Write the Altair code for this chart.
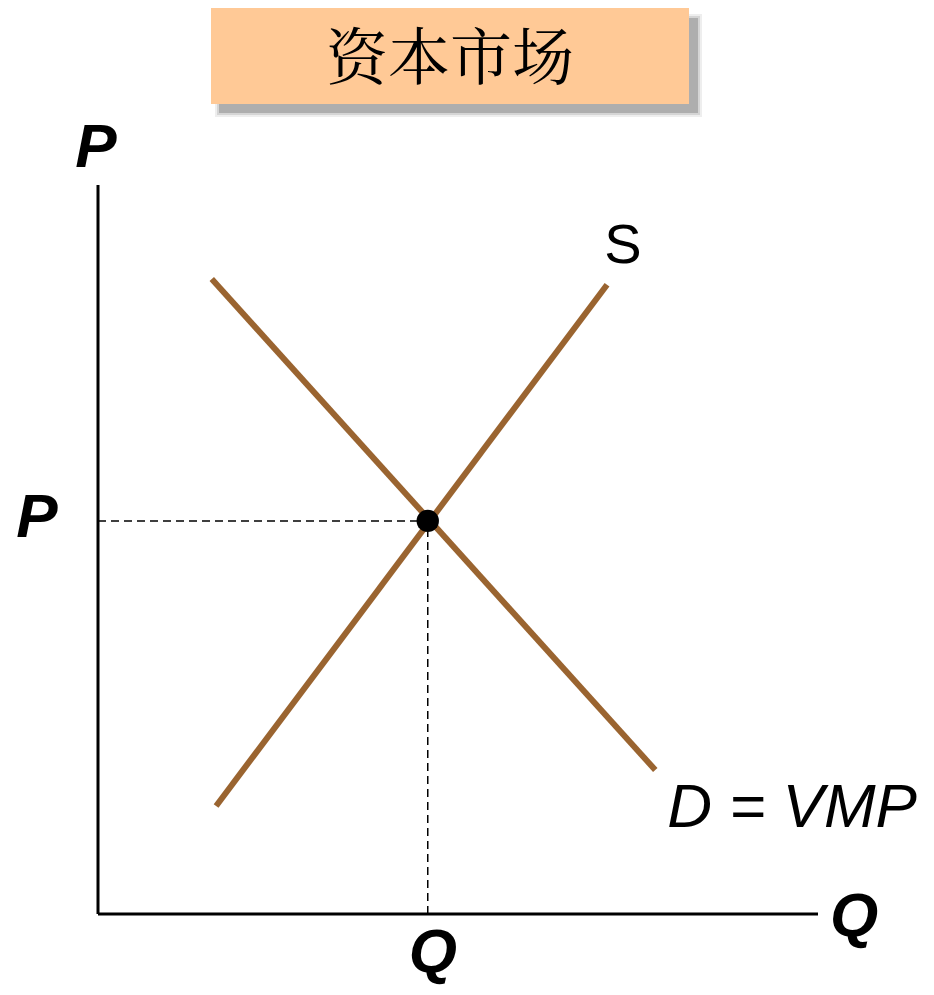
import altair as alt
import pandas as pd

# ---- data (economic units) ----
supply_q = [1.64, 7.07]
supply_p = [1.50, 8.74]
demand_q = [1.58, 7.74]
demand_p = [8.82, 2.00]
eq_q = 4.58
eq_p = 5.46
axis_q_max = 10.0
axis_p_max = 10.125

title_text = "资本市场"
label_text = ["P", "P", "Q", "Q", "S", "D = VMP"]
label_q = [-0.03, -0.85, 10.5, 4.65, 7.29, 9.64]
label_p = [10.375, 5.24, -0.31, -0.80, 9.04, 1.21]

# ---- layout ----
W, H = 918, 979
x_dom = [-90 / 72, (926 - 98) / 72]
y_dom = [(914 - 987) / 72, (914 - 8) / 72]
xs = alt.Scale(domain=x_dom, nice=False, zero=False)
ys = alt.Scale(domain=y_dom, nice=False, zero=False)
X = lambda f: alt.X(f, type="quantitative", scale=xs, axis=None)
Y = lambda f: alt.Y(f, type="quantitative", scale=ys, axis=None)

brown = "#9A6430"

curves = pd.DataFrame({
    "q": supply_q + demand_q,
    "p": supply_p + demand_p,
    "curve": ["S", "S", "D", "D"],
})
lines = alt.Chart(curves).mark_line(color=brown, strokeWidth=6, strokeCap="butt").encode(
    x=X("q"), y=Y("p"), detail="curve:N"
)

axes_df = pd.DataFrame({
    "q1": [0.0, 0.0], "q2": [axis_q_max, 0.0],
    "p1": [0.0, 0.0], "p2": [0.0, axis_p_max],
})
axes = alt.Chart(axes_df).mark_rule(color="black", strokeWidth=3).encode(
    x=X("q1"), x2="q2", y=Y("p1"), y2="p2"
)

dash_df = pd.DataFrame({
    "q1": [0.0, eq_q], "q2": [eq_q, eq_q],
    "p1": [eq_p, 0.0], "p2": [eq_p, eq_p],
})
dashes = alt.Chart(dash_df).mark_rule(color="black", strokeWidth=1.5, strokeDash=[8, 5]).encode(
    x=X("q1"), x2="q2", y=Y("p1"), y2="p2"
)

eq_df = pd.DataFrame({"q": [eq_q], "p": [eq_p]})
point = alt.Chart(eq_df).mark_circle(color="black", opacity=1, size=500).encode(
    x=X("q"), y=Y("p")
)

lab = pd.DataFrame({"t": label_text, "q": label_q, "p": label_p})
base_lab = alt.Chart(lab)
bold_lab = base_lab.transform_filter(alt.FieldOneOfPredicate(field="t", oneOf=["P", "Q"])).mark_text(
    font="Liberation Sans", fontSize=62, fontWeight="bold", fontStyle="italic",
    align="center", baseline="alphabetic", color="black"
).encode(x=X("q"), y=Y("p"), text="t:N")
s_lab = base_lab.transform_filter(alt.datum.t == "S").mark_text(
    font="Liberation Sans", fontSize=56, align="center", baseline="alphabetic", color="black"
).encode(x=X("q"), y=Y("p"), text="t:N")
d_lab = base_lab.transform_filter(alt.datum.t == "D = VMP").mark_text(
    font="Liberation Sans", fontSize=62, fontStyle="italic", align="center",
    baseline="alphabetic", color="black"
).encode(x=X("q"), y=Y("p"), text="t:N")

# title box with soft shadow
title_df = pd.DataFrame({"t": [title_text]})
shadow_layers = []
for grow, op in [(4, 0.10), (2, 0.16), (0, 0.3)]:
    shadow_layers.append(
        alt.Chart(title_df).mark_rect(color="#555555", opacity=op).encode(
            x=alt.value(211 - grow), x2=alt.value(690 + grow),
            y=alt.value(10 - grow), y2=alt.value(105 + grow),
        )
    )
box = alt.Chart(title_df).mark_rect(color="#FFC996").encode(
    x=alt.value(203), x2=alt.value(681), y=alt.value(0), y2=alt.value(96)
)
title = alt.Chart(title_df).mark_text(
    font="Noto Serif CJK SC, Noto Sans CJK SC", fontSize=62, fontWeight="normal",
    align="center", baseline="middle", color="black"
).encode(x=alt.value(442), y=alt.value(53), text="t:N")

chart = alt.layer(
    *shadow_layers, box, title, axes, dashes, lines, point, bold_lab, s_lab, d_lab
).properties(
    width=W, height=H, autosize=alt.AutoSizeParams(type="none"), padding=0,
    background="white"
).configure_view(stroke=None)

chart.save("out.html", embed_options={"renderer": "svg", "actions": False})
